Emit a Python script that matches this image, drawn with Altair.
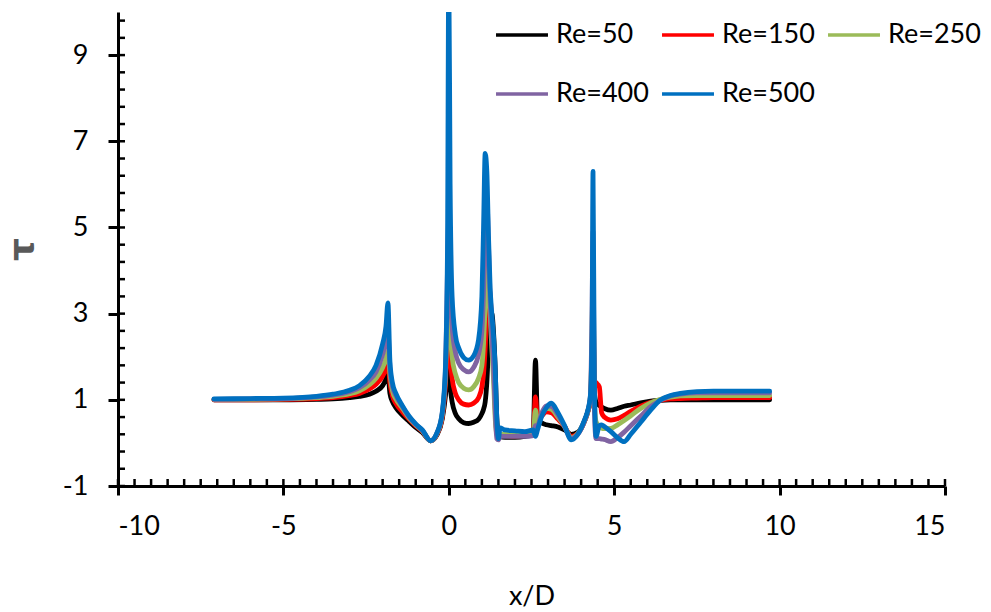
import altair as alt
import pandas as pd

# shared x/D grid
X = [-7.1, -6, -5, -4, -3.5, -3, -2.7, -2.4, -2.2, -2.0,
     -1.9, -1.84, -1.78, -1.7, -1.6, -1.4, -1.2, -1.0, -0.8, -0.55,
     -0.35, -0.2, -0.1, -0.04, 0.0, 0.04, 0.1, 0.2, 0.3, 0.45,
     0.6, 0.75, 0.9, 1.0, 1.05, 1.1, 1.15, 1.2, 1.25, 1.3,
     1.35, 1.4, 1.45, 1.5, 1.55, 1.7, 2.0, 2.3, 2.55, 2.62,
     2.68, 2.8, 2.95, 3.1, 3.3, 3.5, 3.7, 3.9, 4.1, 4.2,
     4.28, 4.33, 4.36, 4.4, 4.45, 4.55, 4.62, 4.7, 4.9, 5.1,
     5.3, 5.5, 5.8, 6.1, 6.4, 6.7, 7.0, 7.5, 8.0, 9.0, 9.7]

RE50 = [1.0, 1.0, 1.0, 1.01, 1.02, 1.05, 1.08, 1.13, 1.2, 1.33,
        1.48, 1.6, 1.15, 0.95, 0.82, 0.64, 0.5, 0.36, 0.24, 0.05,
        0.2, 0.55, 1.1, 1.69, 1.6, 1.3, 0.95, 0.68, 0.56, 0.47,
        0.45, 0.48, 0.55, 0.68, 0.78, 0.95, 1.4, 2.2, 2.7, 3.0,
        2.6, 1.8, 0.6, 0.2, 0.15, 0.13, 0.13, 0.15, 0.2, 1.92,
        0.6, 0.47, 0.42, 0.4, 0.37, 0.3, 0.2, 0.25, 0.5, 0.72,
        1.0, 1.8, 2.9, 1.2, 0.95, 0.87, 0.83, 0.8, 0.76, 0.8,
        0.85, 0.88, 0.93, 0.97, 0.99, 1.0, 1.0, 1.0, 1.0, 1.0, 1.0]

RE150 = [1.0, 1.0, 1.01, 1.03, 1.05, 1.1, 1.15, 1.25, 1.36, 1.55,
         1.72, 1.85, 1.4, 1.08, 0.92, 0.72, 0.55, 0.4, 0.27, 0.05,
         0.22, 0.6, 1.4, 2.4, 2.7, 2.0, 1.5, 1.15, 1.0, 0.9,
         0.88, 0.92, 1.05, 1.3, 1.6, 2.2, 3.0, 3.7, 3.4, 2.8,
         2.0, 0.9, 0.25, 0.15, 0.18, 0.17, 0.16, 0.17, 0.2, 1.07,
         0.55, 0.62, 0.72, 0.7, 0.55, 0.38, 0.15, 0.22, 0.5, 0.72,
         1.0, 2.0, 3.4, 1.45, 1.4, 1.3, 0.7, 0.6, 0.53, 0.56,
         0.64, 0.73, 0.85, 0.94, 0.99, 1.02, 1.03, 1.04, 1.05, 1.05, 1.05]

RE250 = [1.01, 1.01, 1.02, 1.05, 1.08, 1.14, 1.21, 1.35, 1.5, 1.75,
         1.95, 2.12, 1.6, 1.2, 1.02, 0.8, 0.58, 0.42, 0.28, 0.05,
         0.23, 0.65, 1.6, 3.0, 3.74, 2.7, 2.0, 1.6, 1.4, 1.27,
         1.23, 1.3, 1.5, 1.8, 2.3, 3.2, 4.24, 3.9, 3.0, 2.2,
         1.5, 0.6, 0.2, 0.18, 0.2, 0.2, 0.2, 0.2, 0.22, 0.76,
         0.5, 0.65, 0.8, 0.78, 0.6, 0.38, 0.12, 0.22, 0.5, 0.72,
         1.05, 2.5, 4.1, 1.0, 0.5, 0.38, 0.34, 0.33, 0.34, 0.42,
         0.52, 0.63, 0.8, 0.93, 1.01, 1.06, 1.09, 1.1, 1.1, 1.1, 1.1]

RE400 = [1.01, 1.02, 1.03, 1.07, 1.11, 1.19, 1.28, 1.46, 1.65, 2.05,
         2.35, 2.6, 1.75, 1.3, 1.1, 0.84, 0.6, 0.43, 0.29, 0.05,
         0.24, 0.68, 1.7, 4.0, 5.3, 3.6, 2.7, 2.1, 1.85, 1.7,
         1.65, 1.75, 2.05, 2.6, 3.5, 4.8, 5.7, 4.6, 3.3, 2.5,
         1.8, 0.8, 0.1, 0.07, 0.15, 0.15, 0.15, 0.15, 0.17, 0.4,
         0.4, 0.68, 0.86, 0.85, 0.65, 0.38, 0.1, 0.2, 0.5, 0.73,
         1.08, 3.0, 4.9, 0.8, 0.1, 0.1, 0.09, 0.08, 0.03, 0.12,
         0.25, 0.4, 0.62, 0.84, 0.99, 1.09, 1.13, 1.16, 1.16, 1.16, 1.16]

RE500 = [1.02, 1.03, 1.04, 1.08, 1.13, 1.22, 1.33, 1.55, 1.8, 2.3,
         2.7, 3.25, 1.9, 1.38, 1.15, 0.86, 0.62, 0.44, 0.3, 0.05,
         0.25, 0.7, 1.8, 4.5, 11.0, 6.0, 3.4, 2.5, 2.2, 1.98,
         1.92, 2.02, 2.4, 3.4, 5.0, 6.72, 6.3, 4.8, 3.6, 3.0,
         2.5, 1.8, 0.6, 0.1, 0.35, 0.3, 0.28, 0.26, 0.3, 0.15,
         0.3, 0.6, 0.82, 0.92, 0.7, 0.4, 0.07, 0.2, 0.53, 0.75,
         1.1, 2.5, 6.3, 1.5, 0.15, 0.4, 0.42, 0.38, 0.26, 0.12,
         0.03, 0.2, 0.48, 0.76, 1.0, 1.1, 1.15, 1.19, 1.2, 1.2, 1.2]

SERIES = ["Re=50", "Re=150", "Re=250", "Re=400", "Re=500"]
COLORS = ["#000000", "#FF0000", "#9BBB59", "#8064A2", "#0070C0"]

X_TICKS = [-10, -5, 0, 5, 10, 15]
Y_TICKS = [-1, 1, 3, 5, 7, 9]
X_MINOR = [-10 + 0.5 * i for i in range(51)]
Y_MINOR = [round(-1 + 0.4 * i, 2) for i in range(28)]

rows = []
for name, ys in zip(SERIES, [RE50, RE150, RE250, RE400, RE500]):
    for i, (x, y) in enumerate(zip(X, ys)):
        rows.append({"x": x, "tau": y, "series": name, "idx": i})
df = pd.DataFrame(rows)

W, H = 827, 474
FONT = "Lato"
xscale = alt.Scale(domain=[-10, 15], nice=False, zero=False)
yscale = alt.Scale(domain=[-1, 10], nice=False, zero=False)

lines = alt.Chart(df).mark_line(strokeWidth=4.8, clip=True, interpolate="monotone",
                                strokeJoin="round", strokeCap="round").encode(
    x=alt.X("x:Q", scale=xscale, axis=alt.Axis(
        values=X_TICKS, title="x/D", tickSize=9, labelPadding=18,
        labelExpr="'' + datum.value",
        titleX=W / 2, titleY=110, titleBaseline="middle", titleAlign="center",
        titleFontWeight="normal", titleColor="black", titleFont=FONT, titleFontSize=27)),
    y=alt.Y("tau:Q", scale=yscale, axis=alt.Axis(
        values=Y_TICKS, title="τ", tickSize=10, labelPadding=20,
        labelExpr="'' + datum.value",
        titleX=-96, titleY=237, titleBaseline="middle", titleAlign="center",
        titleFontWeight="bold", titleColor="#595959", titleFont="DejaVu Sans", titleFontSize=36)),
    color=alt.Color("series:N", scale=alt.Scale(domain=SERIES, range=COLORS),
                    legend=alt.Legend(title=None, orient="none", legendX=376, legendY=-5,
                                      columns=3, direction="horizontal",
                                      symbolType="stroke", symbolSize=2700, symbolStrokeWidth=3.5,
                                      labelFont=FONT, labelFontSize=27, labelColor="black",
                                      labelOffset=6, columnPadding=6, rowPadding=18)),
    order=alt.Order("idx:Q"),
)

xminor = alt.Chart(pd.DataFrame({"v": X_MINOR})).mark_rule(color="black", strokeWidth=2.5).encode(
    x=alt.X("v:Q", scale=xscale),
    y=alt.value(H), y2=alt.value(H - 7),
)
yminor = alt.Chart(pd.DataFrame({"v": Y_MINOR})).mark_rule(color="black", strokeWidth=2.5).encode(
    y=alt.Y("v:Q", scale=yscale),
    x=alt.value(0), x2=alt.value(7),
)

chart = alt.layer(lines, xminor, yminor).properties(
    width=W, height=H,
    autosize=alt.AutoSizeParams(type="none"),
    padding={"left": 118, "top": 12, "right": 46, "bottom": 126},
    background="white",
).configure_view(stroke=None).configure_axis(
    grid=False, domainColor="black", domainWidth=3, tickColor="black", tickWidth=3,
    labelFont=FONT, labelFontSize=27, labelColor="black",
)

chart.save("out.html", embed_options={"renderer": "svg", "actions": False})
